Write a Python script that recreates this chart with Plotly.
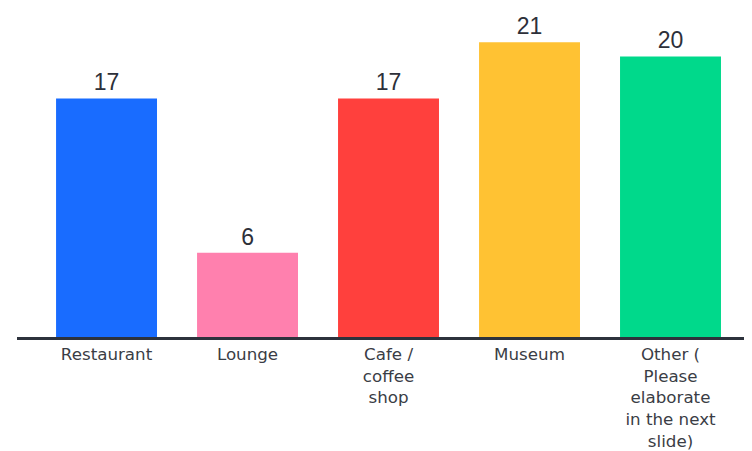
import plotly.graph_objects as go

categories = ["Restaurant", "Lounge", "Cafe /<br>coffee<br>shop", "Museum",
              "Other (<br>Please<br>elaborate<br>in the next<br>slide)"]
values = [17, 6, 17, 21, 20]
colors = ["#196cff", "#ff80ae", "#ff403d", "#ffc233", "#00d98b"]

fig = go.Figure(go.Bar(
    x=list(range(len(categories))),
    y=values,
    marker=dict(color=colors, line=dict(width=0)),
    text=[str(v) for v in values],
    textposition="outside",
    cliponaxis=False,
    textfont=dict(family="Liberation Sans, Arial", size=23, color="#2d3039"),
))

fig.update_layout(
    width=744, height=443,
    margin=dict(l=9, r=0, t=0, b=112),
    paper_bgcolor="white", plot_bgcolor="white",
    bargap=0.284,
    showlegend=False,
    xaxis=dict(
        range=[-0.635, 4.578],
        tickmode="array",
        tickvals=list(range(len(categories))),
        ticktext=categories,
        showgrid=False, zeroline=False,
        showline=True, linecolor="#2d323c", linewidth=2.5,
        ticks="", ticklabelstandoff=0,
        tickfont=dict(family="DejaVu Sans, sans-serif", size=16.7, color="#3a3d45"),
    ),
    yaxis=dict(range=[0, 23.45], visible=False, showgrid=False, zeroline=False),
)

fig.write_html("out.html")
